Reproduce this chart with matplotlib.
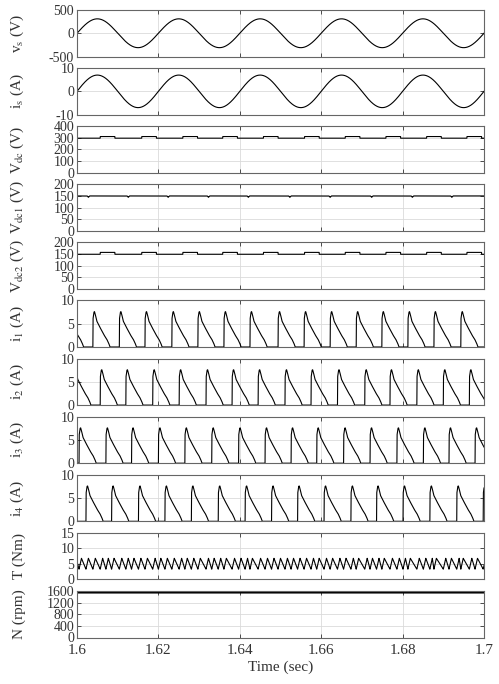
import numpy as np
import matplotlib
matplotlib.use('Agg')
import matplotlib.pyplot as plt

plt.rcParams['font.family'] = 'serif'
plt.rcParams['font.serif'] = ['Liberation Serif', 'DejaVu Serif']
plt.rcParams['mathtext.fontset'] = 'stix'
plt.rcParams['axes.unicode_minus'] = False

# time window (sec)
t_start = 1.6
t_end = 1.7
x_ticks = [1.6, 1.62, 1.64, 1.66, 1.68, 1.7]
x_ticklabels = ['1.6', '1.62', '1.64', '1.66', '1.68', '1.7']

# supply voltage / current
vs_peak = 310.0      # V
is_peak = 7.0        # A
f_line = 50.0        # Hz (5 cycles in 0.1 s)

# dc link voltages: baseline + short bumps / dips
vdc_base = 297.0
vdc_bump = 311.0
vdc_bump_starts = [1.6057, 1.6159, 1.6260, 1.6358, 1.6458,
                   1.6559, 1.6659, 1.6759, 1.6859, 1.6958]
vdc_bump_width = 0.0036

vdc1_base = 150.0
vdc1_bump = 157.0
vdc1_dip = 144.0
vdc1_bump_starts = [1.6065, 1.6163, 1.6261, 1.6361, 1.6462,
                    1.6564, 1.6663, 1.6761, 1.6859, 1.6958]
vdc1_bump_width = 0.0023
vdc1_dip_times = [1.6028, 1.6126, 1.6224, 1.6323, 1.6421,
                  1.6523, 1.6622, 1.6724, 1.6824, 1.6921]

vdc2_base = 149.0
vdc2_bump = 157.0

# phase current pulse onsets (sec)
i1_onsets = [1.5974, 1.6039, 1.6104, 1.6167, 1.6233, 1.6297, 1.6361, 1.6425,
             1.6494, 1.6558, 1.6622, 1.6686, 1.6749, 1.6813, 1.6877, 1.6943]
i2_onsets = [1.5992, 1.6057, 1.6120, 1.6186, 1.6251, 1.6317, 1.6381, 1.6445,
             1.6511, 1.6575, 1.6640, 1.6707, 1.6769, 1.6835, 1.6900, 1.6964]
i3_onsets = [1.6005, 1.6071, 1.6134, 1.6200, 1.6265, 1.6331, 1.6397, 1.6462,
             1.6526, 1.6589, 1.6655, 1.6720, 1.6786, 1.6851, 1.6914, 1.6978]
i4_onsets = [1.6022, 1.6085, 1.6151, 1.6216, 1.6281, 1.6347, 1.6413, 1.6478,
             1.6542, 1.6607, 1.6673, 1.6736, 1.6801, 1.6867, 1.6933, 1.6998]

# one current pulse: offset from onset (ms) and value (A)
pulse_ms = [0.0, 0.03, 0.25, 0.40, 0.60, 0.95, 1.40, 2.00, 2.80, 3.40, 3.90, 4.20]
pulse_a = [0.0, 6.0, 7.5, 7.6, 7.0, 5.6, 4.8, 3.8, 2.5, 1.7, 0.8, 0.0]

# torque ripple: trough / crest per stroke, crest delay after onset (ms)
torque_low = 3.3
torque_high = 6.8
torque_peak_ms = 0.6

# speed (rpm)
speed_rpm = 1560.0

t = np.linspace(t_start, t_end, 20001)


def steps(base, level, starts, width):
    y = np.full_like(t, base)
    for s in starts:
        y[(t >= s) & (t < s + width)] = level
    return y


def pulses(onsets):
    y = np.zeros_like(t)
    off = np.array(pulse_ms) * 1e-3
    for o in onsets:
        y = np.maximum(y, np.interp(t - o, off, pulse_a, left=0, right=0))
    return y


vs = vs_peak * np.sin(2 * np.pi * f_line * (t - t_start))
i_s = is_peak * np.sin(2 * np.pi * f_line * (t - t_start))
vdc = steps(vdc_base, vdc_bump, vdc_bump_starts, vdc_bump_width)
vdc1 = steps(vdc1_base, vdc1_bump, vdc1_bump_starts, vdc1_bump_width)
for d in vdc1_dip_times:
    vdc1 = np.minimum(vdc1, np.interp(t, [d - 3e-4, d, d + 3e-4],
                                      [vdc1_base, vdc1_dip, vdc1_base],
                                      left=vdc1_base, right=vdc1_base))
vdc2 = steps(vdc2_base, vdc2_bump, vdc_bump_starts, vdc_bump_width)
i1 = pulses(i1_onsets)
i2 = pulses(i2_onsets)
i3 = pulses(i3_onsets)
i4 = pulses(i4_onsets)

strokes = np.sort(np.array(i1_onsets + i2_onsets + i3_onsets + i4_onsets))
tq_t = []
tq_v = []
for s in strokes:
    tq_t += [s, s + torque_peak_ms * 1e-3]
    tq_v += [torque_low, torque_high]
torque = np.interp(t, tq_t, tq_v)
speed = np.full_like(t, speed_rpm)

panels = [
    (vs, r'v$_{\rm s}$ (V)', [-500, 0, 500], (-500, 500)),
    (i_s, r'i$_{\rm s}$ (A)', [-10, 0, 10], (-10, 10)),
    (vdc, r'V$_{\rm dc}$ (V)', [0, 100, 200, 300, 400], (0, 400)),
    (vdc1, r'V$_{\rm dc1}$ (V)', [0, 50, 100, 150, 200], (0, 200)),
    (vdc2, r'V$_{\rm dc2}$ (V)', [0, 50, 100, 150, 200], (0, 200)),
    (i1, r'i$_{\rm 1}$ (A)', [0, 5, 10], (0, 10)),
    (i2, r'i$_{\rm 2}$ (A)', [0, 5, 10], (0, 10)),
    (i3, r'i$_{\rm 3}$ (A)', [0, 5, 10], (0, 10)),
    (i4, r'i$_{\rm 4}$ (A)', [0, 5, 10], (0, 10)),
    (torque, 'T (Nm)', [0, 5, 10, 15], (0, 15)),
    (speed, 'N (rpm)', [0, 400, 800, 1200, 1600], (0, 1600)),
]

W, H = 499, 684
fig = plt.figure(figsize=(W / 100, H / 100), dpi=100)
txt = '#333333'

for k, (y, lab, yt, yl) in enumerate(panels):
    top = 10 + k * 58.1
    h = 46.5
    ax = fig.add_axes([77 / W, 1 - (top + h) / H, 407 / W, h / H])
    lw = 2.0 if k == 10 else 0.8
    ax.plot(t, y, color='black', lw=lw)
    ax.set_xlim(t_start, t_end)
    ax.set_ylim(*yl)
    ax.set_xticks(x_ticks)
    ax.set_yticks(yt)
    ax.grid(True, color='#dadada', lw=0.6)
    ax.tick_params(direction='in', top=True, right=True, length=3, width=0.6,
                   colors=txt, labelsize=10, pad=2)
    for sp in ax.spines.values():
        sp.set_color('#666666')
        sp.set_linewidth(0.8)
    ax.set_ylabel(lab, fontsize=11, color=txt)
    ax.yaxis.set_label_coords(-0.125, 0.5)
    if k == 10:
        ax.set_xticklabels(x_ticklabels)
        ax.tick_params(axis='x', labelsize=11, pad=5)
        ax.set_xlabel('Time (sec)', fontsize=11, color=txt, labelpad=2)
    else:
        ax.tick_params(labelbottom=False)

fig.savefig('out.png', dpi=100)
